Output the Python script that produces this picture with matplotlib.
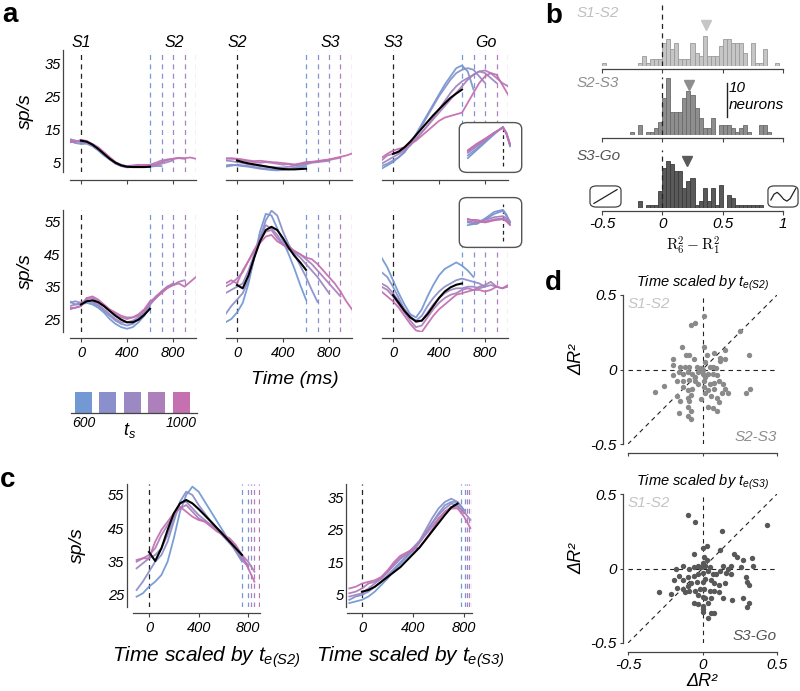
import numpy as np
import matplotlib
matplotlib.use("Agg")
import matplotlib.pyplot as plt
from matplotlib.patches import FancyBboxPatch
from matplotlib.transforms import blended_transform_factory

plt.rcParams['font.family'] = ['Liberation Sans', 'DejaVu Sans']
plt.rcParams['font.style'] = 'italic'
plt.rcParams['mathtext.fontset'] = 'custom'
plt.rcParams['mathtext.it'] = 'Liberation Sans:italic'
plt.rcParams['mathtext.rm'] = 'Liberation Sans:italic'
plt.rcParams['axes.linewidth'] = 0.9

W, H = 800, 691

# ---------------- data ----------------
ts_values = [600, 700, 800, 900, 1000]
ts_colors = ['#7399d4', '#8a90cc', '#9c88c3', '#ad7fbb', '#c470b1']
t_grid = np.arange(-100, 1001, 50)

# panel a, top row (S1-S2, S2-S3, S3-Go)
a1_traces = [
    [11.5, 10.8, 10.5, 10.6, 9.8, 8.5, 7.0, 5.8, 4.6, 3.8, 3.4, 3.5, 3.6, 3.7, 3.5],
    [12.0, 11.5, 11.0, 10.8, 10.0, 8.8, 7.2, 5.8, 4.5, 3.8, 3.5, 3.6, 3.8, 3.9, 3.6, 3.8, 3.8],
    [11.0, 11.2, 11.5, 11.0, 10.3, 9.0, 7.5, 6.0, 4.8, 4.0, 3.6, 3.8, 4.0, 4.1, 3.8, 4.0, 4.5, 5.0, 5.5],
    [11.8, 11.5, 11.2, 11.0, 10.2, 9.2, 7.8, 6.2, 5.0, 4.2, 3.8, 4.0, 4.2, 4.0, 4.2, 4.8, 5.5, 5.8, 6.0, 6.2, 6.0],
    [11.2, 11.0, 11.8, 11.4, 10.5, 9.5, 8.0, 6.5, 5.0, 4.0, 3.6, 3.8, 4.0, 4.2, 4.0, 4.3, 5.0, 5.6, 6.0, 6.3, 6.2, 6.4, 6.0],
]
a1_fit = [11.5, 11.2, 10.3, 9.0, 7.5, 6.0, 4.8, 4.0, 3.6, 3.5, 3.5, 3.5, 3.6]

a2_traces = [
    [4.0, 4.2, 4.0, 3.8, 3.6, 3.3, 3.0, 2.8, 2.6, 2.5, 2.6, 2.8, 3.0, 3.3, 3.8],
    [3.6, 3.9, 4.2, 4.0, 3.8, 3.5, 3.2, 3.0, 2.8, 2.8, 2.9, 3.0, 3.3, 3.8, 4.3, 4.8, 5.0],
    [5.5, 5.3, 5.0, 4.7, 4.3, 4.0, 3.8, 3.6, 3.5, 3.4, 3.4, 3.6, 3.9, 4.3, 4.7, 5.0, 5.0, 5.2, 5.4],
    [6.0, 6.2, 6.0, 5.6, 5.2, 5.0, 4.8, 5.0, 4.8, 4.5, 4.2, 4.4, 4.0, 4.3, 4.8, 5.0, 5.2, 5.4, 5.6, 6.0, 6.3],
    [6.2, 6.0, 6.0, 5.8, 5.5, 5.3, 5.4, 5.2, 5.0, 4.9, 4.7, 4.5, 4.3, 4.6, 5.0, 5.1, 5.3, 5.6, 5.8, 6.2, 6.6, 7.0, 7.6],
]
a2_fit = [5.5, 5.0, 4.6, 4.3, 4.0, 3.7, 3.4, 3.1, 2.9, 2.8, 2.8, 2.9, 3.0]

a3_traces = [
    [3.0, 4.0, 5.0, 6.5, 8.0, 10.5, 13.5, 16.5, 19.5, 22.5, 25.5, 28.5, 31.0, 33.5, 34.3, 32.5, 27.0],
    [3.8, 4.5, 5.5, 6.5, 8.0, 10.5, 13.0, 16.0, 19.0, 22.0, 25.0, 27.5, 30.0, 32.0, 33.0, 33.5, 33.0, 31.0, 29.0],
    [4.5, 5.5, 6.5, 7.5, 8.5, 10.0, 12.0, 14.0, 16.0, 18.5, 21.0, 23.5, 26.0, 28.0, 29.5, 30.5, 31.5, 32.5, 32.0, 30.5, 29.0],
    [5.5, 7.0, 7.5, 8.0, 9.0, 10.5, 12.0, 14.0, 16.0, 18.0, 20.0, 22.0, 24.0, 26.0, 28.0, 30.0, 31.5, 32.5, 32.8, 32.0, 30.5, 29.0, 28.0],
    [6.3, 7.5, 8.5, 9.0, 9.5, 10.5, 11.5, 13.0, 14.5, 16.0, 17.5, 18.5, 19.0, 19.5, 20.0, 23.0, 26.0, 29.0, 31.0, 32.0, 31.5, 28.5, 25.5],
]
a3_fit = [7.5, 8.2, 9.5, 11.2, 13.2, 15.2, 17.2, 19.2, 21.0, 22.8, 24.5, 25.8, 27.0]

# panel a, bottom row
a4_traces = [
    [30.5, 29.5, 29.5, 30.0, 29.5, 28.5, 27.0, 25.0, 23.5, 22.5, 22.0, 22.5, 24.0, 26.0, 29.0],
    [30.0, 30.5, 30.0, 30.5, 30.0, 29.0, 27.5, 26.0, 24.5, 23.5, 23.0, 23.5, 25.0, 27.0, 29.5, 31.5, 33.5],
    [29.0, 29.5, 30.0, 31.0, 30.5, 29.5, 28.0, 26.5, 25.0, 24.0, 24.0, 24.5, 25.5, 27.0, 29.5, 31.5, 33.5, 35.0, 36.0],
    [28.5, 28.5, 29.0, 31.5, 31.5, 30.5, 29.0, 27.5, 26.5, 25.5, 25.0, 25.5, 26.0, 27.5, 30.0, 32.0, 33.5, 35.0, 35.5, 36.5, 37.0],
    [28.0, 28.5, 29.0, 31.5, 32.0, 31.0, 29.5, 28.0, 27.0, 26.0, 25.5, 25.5, 26.5, 28.0, 30.5, 31.5, 33.0, 34.5, 35.5, 36.0, 35.0, 36.5, 38.0],
]
a4_fit = [29.5, 30.5, 30.8, 30.2, 29.0, 27.5, 26.0, 24.8, 24.0, 24.0, 24.8, 26.3, 28.2]

a5_traces = [
    [24.0, 25.0, 27.0, 30.0, 36.0, 44.0, 52.0, 57.5, 57.0, 53.0, 49.0, 45.0, 40.5, 35.5, 31.0],
    [26.5, 29.0, 31.0, 33.0, 37.0, 44.0, 50.0, 55.5, 58.5, 57.0, 52.0, 48.0, 45.0, 41.5, 38.0, 34.0, 30.3],
    [33.0, 34.0, 35.0, 36.0, 40.0, 45.0, 50.0, 54.0, 53.0, 51.0, 48.0, 46.5, 45.5, 44.0, 42.0, 40.0, 38.0, 35.5, 33.0],
    [35.0, 36.0, 37.5, 39.5, 43.0, 46.5, 49.5, 52.0, 52.5, 50.0, 48.0, 47.0, 46.0, 45.0, 43.5, 42.0, 40.0, 38.0, 36.0, 34.0, 32.0],
    [36.0, 37.0, 36.0, 40.0, 43.0, 46.0, 48.5, 50.5, 51.0, 49.0, 48.0, 47.5, 46.0, 45.0, 44.0, 43.5, 42.0, 40.0, 38.0, 36.0, 33.5, 30.5, 28.0],
]
a5_fit = [35.5, 34.5, 38.5, 44.0, 49.0, 52.5, 53.5, 52.5, 50.0, 47.0, 44.5, 42.5, 40.2]

a6_traces = [
    [44.0, 41.0, 37.0, 33.0, 29.5, 26.5, 25.5, 28.0, 32.0, 35.5, 38.5, 40.5, 41.5, 42.5, 41.5, 40.0, 38.0],
    [39.5, 38.0, 35.0, 31.5, 28.0, 25.5, 24.5, 26.0, 29.0, 31.5, 33.5, 35.0, 36.0, 37.0, 37.5, 37.0, 36.5, 36.0, 35.0],
    [36.0, 35.0, 33.0, 30.5, 28.0, 26.0, 24.0, 24.5, 27.0, 29.5, 31.5, 33.0, 34.0, 34.5, 34.5, 35.0, 35.0, 34.5, 35.0, 35.5, 35.0],
    [35.0, 34.0, 32.0, 29.5, 27.0, 24.5, 22.5, 23.0, 25.5, 28.0, 30.0, 31.5, 32.5, 33.0, 34.0, 34.5, 34.0, 35.0, 35.5, 36.5, 35.0, 34.5, 35.0],
    [33.5, 32.0, 30.5, 28.5, 26.0, 23.5, 21.5, 21.0, 23.5, 26.0, 28.0, 29.5, 31.0, 32.5, 33.0, 33.5, 34.0, 34.0, 33.5, 34.0, 35.0, 34.5, 35.5],
]
a6_fit = [32.4, 30.0, 27.5, 25.5, 24.3, 24.5, 26.5, 29.0, 31.5, 33.5, 34.8, 35.6, 36.0]

# insets (normalized time, aligned at Go)
inset_t = [-1.0, -0.75, -0.5, -0.25, 0.0, 0.1, 0.2]
inset_top = [
    [0.30, 0.45, 0.60, 0.75, 0.89, 0.75, 0.52],
    [0.35, 0.48, 0.62, 0.76, 0.89, 0.76, 0.55],
    [0.40, 0.52, 0.64, 0.77, 0.88, 0.78, 0.57],
    [0.43, 0.55, 0.66, 0.78, 0.88, 0.77, 0.56],
    [0.45, 0.57, 0.67, 0.78, 0.87, 0.76, 0.55],
]
inset_bot = [
    [0.45, 0.48, 0.58, 0.70, 0.74, 0.65, 0.50],
    [0.50, 0.47, 0.56, 0.66, 0.72, 0.62, 0.52],
    [0.52, 0.50, 0.55, 0.60, 0.62, 0.58, 0.50],
    [0.55, 0.55, 0.52, 0.56, 0.58, 0.55, 0.47],
    [0.57, 0.52, 0.50, 0.54, 0.56, 0.52, 0.45],
]

# panel c
c1_traces = [
    [24.5, 25.5, 27.5, 29.0, 31.0, 35.0, 42.0, 50.0, 55.0, 57.5, 56.0, 53.0, 50.0, 47.0, 44.0, 41.0, 38.0, 35.0],
    [26.5, 29.0, 32.0, 35.0, 37.0, 41.0, 47.0, 53.0, 56.0, 55.0, 52.0, 49.5, 47.0, 45.0, 43.0, 41.0, 38.5, 36.0, 34.0],
    [33.0, 34.5, 36.0, 37.0, 39.0, 43.0, 48.0, 52.5, 53.0, 51.0, 49.0, 47.5, 46.0, 44.5, 42.5, 40.5, 38.5, 35.5, 33.5],
    [35.0, 36.0, 37.0, 39.0, 43.0, 46.0, 49.0, 51.0, 52.0, 50.0, 48.0, 47.0, 46.0, 45.0, 43.5, 41.5, 39.5, 37.0, 35.0, 32.0],
    [35.5, 36.0, 36.0, 41.0, 44.5, 47.0, 49.5, 51.5, 50.0, 48.5, 47.5, 47.0, 45.5, 44.0, 43.0, 42.0, 40.0, 37.0, 33.0, 29.0],
]
c1_fit = [37.9, 35.2, 39.0, 44.5, 49.5, 52.5, 53.5, 52.5, 50.8, 48.9, 47.0, 45.0, 43.0, 41.0, 39.0, 37.0]
c1_ends = [750, 795, 820, 848, 885]

c2_traces = [
    [2.5, 3.0, 3.5, 4.5, 6.0, 8.0, 10.0, 12.5, 14.5, 16.5, 18.5, 21.0, 24.0, 27.0, 30.0, 32.5, 33.5, 33.5, 31.0],
    [3.5, 4.5, 5.0, 6.0, 7.5, 9.0, 11.0, 13.0, 15.0, 17.0, 19.0, 21.5, 25.0, 28.5, 31.5, 33.5, 34.5, 33.5, 31.0],
    [4.5, 5.0, 5.5, 7.0, 8.5, 10.0, 12.0, 14.0, 16.0, 17.5, 19.5, 21.5, 24.0, 27.0, 29.5, 31.5, 33.0, 32.5, 30.0],
    [5.5, 6.0, 7.0, 8.5, 9.0, 10.0, 12.0, 14.5, 16.5, 17.5, 18.5, 21.0, 23.5, 26.0, 28.5, 30.5, 32.0, 32.0, 30.5, 28.0],
    [7.0, 7.5, 8.5, 9.0, 9.5, 10.5, 12.5, 15.0, 17.0, 18.0, 19.0, 19.5, 22.0, 25.0, 28.0, 30.5, 31.5, 31.5, 29.0, 25.5],
]
c2_fit = [6.0, 6.5, 7.5, 9.0, 10.5, 12.0, 13.5, 15.5, 17.5, 19.5, 22.0, 24.5, 27.0, 29.5, 31.8, 33.0]
c2_ends = [780, 805, 820, 840, 860]

# panel b histograms (bins of 1/30 from -0.5 to 1)
hist_edges = np.linspace(-0.5, 1.0, 46)
hist_s1s2 = [1, 0, 0, 0, 0, 0, 0, 0, 0, 1, 3, 1, 2, 2, 2, 7, 8, 5, 7, 2, 2, 2, 7, 4, 3, 9, 3, 3, 3, 6,
             8, 8, 7, 7, 7, 4, 0, 7, 1, 1, 5, 0, 0, 1, 0]
hist_s2s3 = [0, 0, 0, 0, 0, 0, 0, 1, 0, 3, 0, 1, 1, 2, 4, 11, 17, 7, 7, 7, 11, 13, 12, 8, 5, 2, 2, 5, 0, 3,
             3, 3, 2, 1, 2, 3, 1, 0, 0, 3, 3, 1, 0, 0, 0]
hist_s3go = [0, 0, 0, 0, 0, 0, 0, 0, 0, 2, 0, 1, 1, 1, 5, 12, 14, 13, 11, 11, 6, 8, 9, 1, 2, 6, 2, 6, 1, 7,
             0, 4, 3, 1, 1, 1, 1, 1, 1, 1, 0, 0, 0, 0, 0]
hist_medians = [0.36, 0.225, 0.205]
hist_names = ['S1-S2', 'S2-S3', 'S3-Go']

# panel d scatter
d1_x = [0.01, -0.08, -0.05, 0.25, -0.14, -0.11, -0.09, -0.06, 0.01, 0.03, 0.08, 0.12, 0.15, 0.12, 0.15, 0.31,
        -0.20, -0.20, -0.15, -0.12, -0.09, -0.04, -0.01, 0.02, 0.05, 0.07, 0.09, -0.20, -0.16, -0.13, -0.10,
        -0.07, -0.03, 0.00, 0.04, 0.07, 0.10, -0.26, -0.32, -0.17, -0.13, -0.09, -0.05, -0.03, 0.01, 0.05,
        0.08, 0.11, 0.14, -0.13, -0.10, -0.07, 0.01, 0.04, 0.08, 0.13, 0.17, 0.15, 0.32, 0.29, -0.17, -0.15,
        -0.10, -0.08, -0.01, 0.02, 0.06, 0.10, 0.11, -0.09, -0.10, -0.08, 0.04, 0.07, 0.10, -0.16, -0.10,
        -0.08, -0.02, 0.00, 0.02, -0.05]
d1_y = [0.36, 0.30, 0.31, 0.26, 0.15, 0.10, 0.10, 0.07, 0.15, 0.10, 0.11, 0.08, 0.13, 0.06, 0.07, 0.10,
        0.07, 0.03, 0.02, 0.02, 0.02, 0.02, 0.01, 0.05, 0.02, 0.02, 0.01, -0.04, -0.02, -0.03, -0.02,
        -0.03, -0.02, -0.03, -0.03, -0.03, -0.04, -0.11, -0.15, -0.08, -0.08, -0.07, -0.08, -0.10, -0.08, -0.10,
        -0.09, -0.08, -0.10, -0.12, -0.14, -0.13, -0.12, -0.14, -0.13, -0.16, -0.16, -0.13, -0.13, -0.16, -0.18, -0.21,
        -0.19, -0.17, -0.20, -0.16, -0.18, -0.19, -0.22, -0.21, -0.25, -0.28, -0.25, -0.26, -0.28, -0.29, -0.31,
        -0.33, 0.00, 0.00, -0.05, -0.05]
d2_x = [-0.10, -0.05, 0.13, 0.43, 0.00, 0.03, -0.06, 0.12, 0.21, 0.23, 0.27, 0.33, 0.01, 0.03, 0.00, -0.13,
        -0.18, -0.09, -0.06, -0.03, -0.01, 0.02, 0.05, 0.14, 0.17, 0.19, 0.26, 0.34, -0.16, -0.19, -0.13,
        -0.10, -0.06, -0.03, 0.00, 0.04, 0.07, 0.09, 0.12, 0.16, 0.19, 0.29, 0.30, 0.31, -0.17, -0.13, -0.10,
        -0.08, -0.04, 0.00, 0.02, 0.06, 0.08, 0.11, 0.15, -0.12, -0.09, -0.05, -0.02, 0.01, 0.05, 0.08, 0.11,
        -0.03, 0.00, 0.02, 0.06, 0.14, 0.20, 0.27, 0.31, 0.30, -0.06, -0.03, 0.00, 0.04, 0.00, 0.06, 0.08,
        0.04, 0.00, -0.29, -0.21]
d2_y = [0.36, 0.31, 0.25, 0.29, 0.14, 0.15, 0.10, 0.125, 0.10, 0.08, 0.06, 0.07, 0.08, 0.06, 0.04, 0.02,
        0.00, 0.00, 0.01, 0.02, 0.01, 0.02, 0.01, 0.02, 0.00, 0.02, 0.01, 0.02, -0.05, -0.08, -0.08,
        -0.06, -0.05, -0.04, -0.03, -0.02, -0.04, -0.04, -0.02, -0.03, -0.04, -0.06, -0.09, -0.11, -0.13, -0.14, -0.12,
        -0.10, -0.09, -0.09, -0.07, -0.08, -0.10, -0.11, -0.10, -0.16, -0.15, -0.15, -0.14, -0.14, -0.15, -0.15, -0.16,
        -0.18, -0.19, -0.20, -0.20, -0.20, -0.21, -0.20, -0.23, -0.26, -0.23, -0.24, -0.25, -0.23, -0.29, -0.30, -0.30,
        -0.33, -0.27, -0.16, -0.17]

# ---------------- figure ----------------
fig = plt.figure(figsize=(W / 100, H / 100), dpi=100)


def px_axes(x0, y0, x1, y1):
    return fig.add_axes([x0 / W, 1 - y1 / H, (x1 - x0) / W, (y1 - y0) / H])


def ptext(x, y, s, **kw):
    return fig.text(x / W, 1 - y / H, s, **kw)


DASH = (0, (4, 3.5))


def time_panel(rect, traces, fit, ylim, yticks, show_y, xlabels, ends, xlim=(-100, 1000),
               xticks=(0, 400, 800), bottom_out=5.5, left_out=4.5):
    ax = px_axes(*rect)
    for ts, c in zip(ends, ts_colors):
        ax.axvline(ts, color=c, ls=DASH, lw=0.9)
    ax.axvline(0, color='#222222', ls=DASH, lw=0.9)
    for v, c in zip(traces, ts_colors):
        ax.plot(t_grid[:len(v)], v, color=c, lw=1.3, alpha=0.95)
    ax.plot(t_grid[2:2 + len(fit)], fit, color='black', lw=1.5)
    ax.set_xlim(*xlim)
    ax.set_ylim(*ylim)
    ax.spines[['top', 'right']].set_visible(False)
    ax.spines['bottom'].set_position(('outward', bottom_out))
    ax.spines['bottom'].set_color('#444444')
    ax.set_xticks(xticks)
    ax.tick_params(axis='x', length=3, width=0.8, color='#444444', labelsize=10.5, pad=3)
    if not xlabels:
        ax.set_xticklabels([])
    if show_y:
        ax.spines['left'].set_position(('outward', left_out))
        ax.spines['left'].set_color('#444444')
        ax.set_yticks(yticks)
        ax.tick_params(axis='y', length=0, labelsize=10.5, pad=2)
    else:
        ax.spines['left'].set_visible(False)
        ax.set_yticks([])
    return ax


a_cols = [(69.5, 196), (225.5, 352), (381.5, 508)]
top_y, bot_y = (50, 172), (210, 332)
a_top = [a1_traces, a2_traces, a3_traces]
a_top_fit = [a1_fit, a2_fit, a3_fit]
a_bot = [a4_traces, a5_traces, a6_traces]
a_bot_fit = [a4_fit, a5_fit, a6_fit]
events = [('S1', 'S2'), ('S2', 'S3'), ('S3', 'Go')]

for i, (x0, x1) in enumerate(a_cols):
    ax = time_panel((x0, top_y[0], x1, top_y[1]), a_top[i], a_top_fit[i], (2, 39), [5, 15, 25, 35],
                    i == 0, False, ts_values, bottom_out=5.8)
    tr = blended_transform_factory(ax.transData, ax.transAxes)
    ax.text(0, 1.065, events[i][0], transform=tr, ha='center', va='center', fontsize=11.5)
    ax.text(810, 1.065, events[i][1], transform=tr, ha='center', va='center', fontsize=11.5)
    ax = time_panel((x0, bot_y[0], x1, bot_y[1]), a_bot[i], a_bot_fit[i], (21, 58.7), [25, 35, 45, 55],
                    i == 0, True, ts_values, bottom_out=4.3)

# insets in panel a (right column)
for (y0, y1), data in [((121, 174), inset_top), ((196, 249), inset_bot)]:
    ins = px_axes(458, y0, 523, y1)
    ins.set_xlim(-1.28, 0.57)
    ins.set_ylim(0, 1)
    ins.axis('off')
    ins.add_patch(FancyBboxPatch((0.02, 0.03), 0.96, 0.94, boxstyle='round,pad=0,rounding_size=0.12',
                                 transform=ins.transAxes, fc='white', ec='#555555', lw=1.0, zorder=0))
    ins.plot([0, 0], [0.15, 0.85], color='#222222', ls=(0, (3, 2.5)), lw=0.9)
    for v, c in zip(data, ts_colors):
        ins.plot(inset_t, v, color=c, lw=1.2)

# a labels
ptext(2, 22, 'a', fontsize=20, fontweight='bold', fontstyle='normal', va='baseline')
ptext(25, 111, 'sp/s', fontsize=14, rotation=90, ha='center', va='center')
ptext(25, 271, 'sp/s', fontsize=14, rotation=90, ha='center', va='center')
ptext(295, 380, 'Time (ms)', fontsize=14, ha='center', va='center')

# t_s color legend
lg = px_axes(71, 391, 197, 413)
lg.bar(range(len(ts_values)), 1, width=0.7, color=ts_colors)
lg.set_xlim(-0.51, 4.65)
lg.set_ylim(0, 1.05)
lg.spines[['top', 'right', 'left']].set_visible(False)
lg.spines['bottom'].set_color('#444444')
lg.set_xticks([0, 4])
lg.set_xticklabels([str(ts_values[0]), str(ts_values[-1])])
lg.tick_params(axis='x', length=0, labelsize=10, pad=2)
lg.set_yticks([])
ptext(130, 430, '$t_s$', fontsize=13, ha='center', va='center')

# panel c
ptext(0, 487, 'c', fontsize=20, fontweight='bold', fontstyle='normal', va='baseline')
ax = time_panel((133, 484, 260, 607), c1_traces, c1_fit, (21.4, 58.3), [25, 35, 45, 55], True, True,
                c1_ends, xlim=(-129, 895), bottom_out=4.3, left_out=4.3)
ax = time_panel((347, 484, 472, 607), c2_traces, c2_fit, (1.3, 39), [5, 15, 25, 35], True, True,
                c2_ends, xlim=(-118, 863), bottom_out=4.3, left_out=0.5)
ptext(77, 545, 'sp/s', fontsize=14, rotation=90, ha='center', va='center')
ptext(206, 657, r'Time scaled by $t_{e(S2)}$', fontsize=15, ha='center', va='center')
ptext(410, 657, r'Time scaled by $t_{e(S3)}$', fontsize=15, ha='center', va='center')

# panel b histograms
ptext(545, 23, 'b', fontsize=20, fontweight='bold', fontstyle='normal', va='baseline')
hist_rects = [(602, 5, 783, 66), (602, 77, 783, 135), (602, 150, 783, 208)]
hist_fill = ['#c6c6c6', '#8e8e8e', '#5a5a5a']
hist_edge = ['#9a9a9a', '#6a6a6a', '#3c3c3c']
hist_label = ['#c0c0c0', '#8e8e8e', '#555555']
tri_height = [12.2, 15.0, 14.0]
for k, counts in enumerate([hist_s1s2, hist_s2s3, hist_s3go]):
    x0, y0, x1, y1 = hist_rects[k]
    ax = px_axes(x0, y0, x1, y1)
    counts = np.array(counts)
    keep = counts > 0
    ax.bar(hist_edges[:-1][keep], counts[keep], width=1 / 30, align='edge', color=hist_fill[k],
           edgecolor=hist_edge[k], lw=0.6)
    ax.axvline(0, color='#222222', ls=DASH, lw=0.9)
    ax.plot(hist_medians[k], tri_height[k], marker='v', ms=7.5, color=hist_fill[k], mec=hist_fill[k])
    ax.set_xlim(-0.5, 1.0)
    ax.set_ylim(0, (y1 - y0) / 3.35)
    ax.spines[['top', 'right', 'left']].set_visible(False)
    ax.spines['bottom'].set_position(('outward', 2))
    ax.spines['bottom'].set_color('#444444')
    ax.set_yticks([])
    ax.set_xticks([-0.5, 0, 0.5, 1])
    ax.tick_params(axis='x', length=3, width=0.8, color='#444444', labelsize=11, pad=1.5)
    if k < 2:
        ax.set_xticklabels([])
    else:
        ax.set_xticklabels(['-0.5', '0', '0.5', '1'])
    ptext(577, y0 + 8 if k == 0 else y0 + 6, hist_names[k], fontsize=11, color=hist_label[k], va='center')
    if k == 1:
        ax.plot([0.533, 0.533], [5.4, 15.4], color='#222222', lw=1.0)
        ax.text(0.55, 14.0, '10', fontsize=11, va='center')
        ax.text(0.55, 9.0, 'neurons', fontsize=11, va='center')
ptext(693, 246, r'$\mathrm{R}_6^2 - \mathrm{R}_1^2$', fontsize=11, ha='center', va='center',
      math_fontfamily='cm')

# icons in panel b
icon_line_x = [0.15, 0.85]
icon_line_y = [0.2, 0.8]
icon_wig_x = [0.12, 0.22, 0.32, 0.42, 0.52, 0.62, 0.72, 0.82, 0.9]
icon_wig_y = [0.35, 0.6, 0.68, 0.55, 0.38, 0.3, 0.4, 0.65, 0.85]
for (x0, x1), (xs, ys) in [((589, 622), (icon_line_x, icon_line_y)), ((767, 799), (icon_wig_x, icon_wig_y))]:
    ic = px_axes(x0, 185, x1, 208)
    ic.set_xlim(0, 1)
    ic.set_ylim(0, 1)
    ic.axis('off')
    ic.add_patch(FancyBboxPatch((0.03, 0.04), 0.94, 0.92, boxstyle='round,pad=0,rounding_size=0.2',
                                transform=ic.transAxes, fc='white', ec='#444444', lw=0.9))
    ic.plot(xs, ys, color='#222222', lw=0.9)

# panel d scatter
ptext(545, 290, 'd', fontsize=20, fontweight='bold', fontstyle='normal', va='baseline')
d_rects = [(628, 295, 777, 444), (628, 494, 777, 643)]
d_colors = ['#8a8a8a', '#585858']
d_titles = [r'Time scaled by $t_{e(S2)}$', r'Time scaled by $t_{e(S3)}$']
d_corner = [('S2-S3', '#8e8e8e'), ('S3-Go', '#555555')]
for k, (xs, ys) in enumerate([(d1_x, d1_y), (d2_x, d2_y)]):
    ax = px_axes(*d_rects[k])
    ax.plot([-0.5, 0.5], [-0.5, 0.5], color='#222222', ls=DASH, lw=0.8)
    ax.axhline(0, color='#222222', ls=DASH, lw=0.8)
    ax.axvline(0, color='#222222', ls=DASH, lw=0.8)
    ax.scatter(xs, ys, s=15, color=d_colors[k], lw=0, zorder=3)
    ax.set_xlim(-0.5, 0.5)
    ax.set_ylim(-0.5, 0.5)
    ax.spines[['top', 'right']].set_visible(False)
    ax.spines['left'].set_position(('outward', 3.6))
    ax.spines['bottom'].set_position(('outward', 6.5))
    for s in ('left', 'bottom'):
        ax.spines[s].set_color('#444444')
    ax.set_xticks([-0.5, 0, 0.5])
    ax.set_yticks([-0.5, 0, 0.5])
    ax.set_yticklabels(['-0.5', '0', '0.5'])
    ax.tick_params(length=2.5, width=0.8, color='#444444', labelsize=11, pad=2)
    if k == 0:
        ax.set_xticklabels([])
    else:
        ax.set_xticklabels(['-0.5', '0', '0.5'])
    ax.set_title(d_titles[k], fontsize=10.5, pad=6)
    ax.text(0.0, 0.985, 'S1-S2', transform=ax.transAxes, fontsize=11, color='#c4c4c4', va='top')
    ax.text(1.0, 0.0, d_corner[k][0], transform=ax.transAxes, fontsize=11, color=d_corner[k][1],
            ha='right', va='bottom')
    ptext(577, (d_rects[k][1] + d_rects[k][3]) / 2 - 10, 'ΔR²', fontsize=13, rotation=90,
          ha='center', va='center')
ptext(702, 681, 'ΔR²', fontsize=13, ha='center', va='center')

fig.savefig('out.png', dpi=100)
